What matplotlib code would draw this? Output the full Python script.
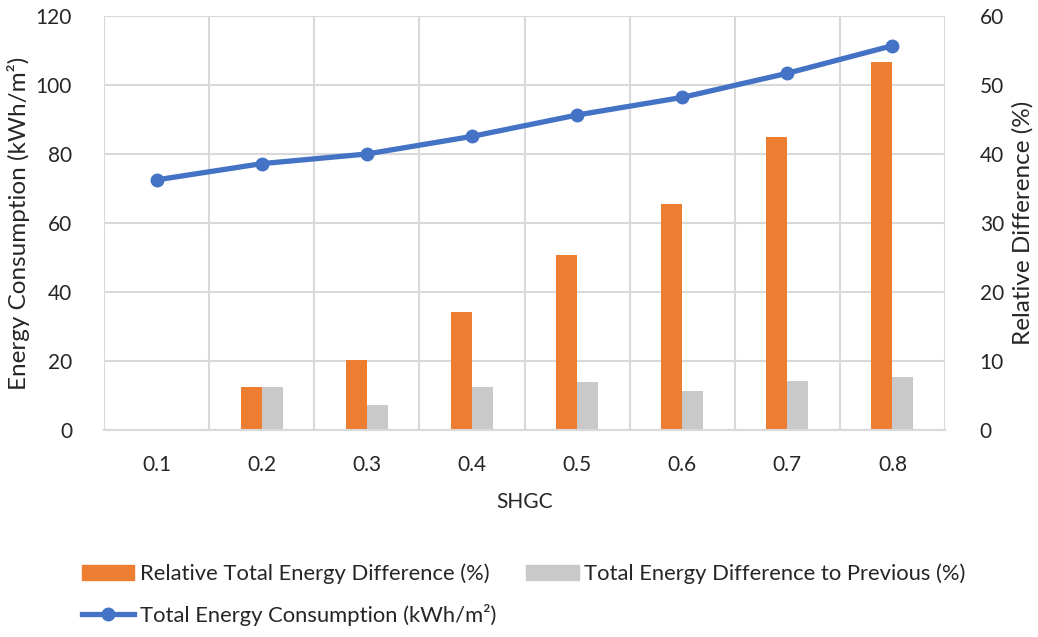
import matplotlib
matplotlib.use("Agg")
import matplotlib.pyplot as plt
from matplotlib.lines import Line2D
from matplotlib.patches import Patch
import numpy as np

plt.rcParams['font.family'] = ['Lato', 'DejaVu Sans']

# Dados
shgc = ['0.1', '0.2', '0.3', '0.4', '0.5', '0.6', '0.7', '0.8']
consumo_total = [72.5, 77.2, 80.0, 85.1, 91.3, 96.4, 103.4, 111.4]   # kWh/m²
dif_relativa = [0, 6.2, 10.1, 17.1, 25.3, 32.7, 42.4, 53.4]           # %
dif_anterior = [0, 6.2, 3.6, 6.3, 6.9, 5.7, 7.1, 7.7]                 # %

laranja = '#ED7D31'
cinza = '#C9C9C9'
azul = '#4472C4'
grade = '#D9D9D9'
texto = '#262626'
fs = 15

fig = plt.figure(figsize=(10.38, 6.37), dpi=100)
ax = fig.add_axes([104 / 1038, 1 - 430 / 637, (945 - 104) / 1038, (430 - 16) / 637])
ax2 = ax.twinx()

# eixo das barras (direita) e eixo da linha (esquerda)
ax.yaxis.tick_right()
ax.yaxis.set_label_position('right')
ax2.yaxis.tick_left()
ax2.yaxis.set_label_position('left')

x = np.arange(len(shgc))
w = 0.2
ax.bar(x - w / 2, dif_relativa, w, color=laranja, zorder=3)
ax.bar(x + w / 2, dif_anterior, w, color=cinza, zorder=3)
ax2.plot(x, consumo_total, '-o', color=azul, lw=3.8, ms=9, zorder=4)

ax.set_xlim(-0.5, len(shgc) - 0.5)
ax.set_ylim(0, 60)
ax.set_yticks(range(0, 61, 10))
ax2.set_ylim(0, 120)
ax2.set_yticks(range(0, 121, 20))

ax.set_xticks(x)
ax.set_xticklabels(shgc)
ax.set_xticks(np.arange(-0.5, len(shgc)), minor=True)
ax.set_axisbelow(True)
ax.grid(axis='y', color=grade, lw=1.5)
ax.grid(axis='x', which='minor', color=grade, lw=1.5)
ax.tick_params(which='both', length=0, labelsize=fs, colors=texto)
ax.tick_params(axis='x', pad=18)
ax.tick_params(axis='y', pad=25)
ax2.tick_params(length=0, labelsize=fs, colors=texto, pad=23)

for a in (ax, ax2):
    for s in ['top', 'left', 'right']:
        a.spines[s].set_visible(False)
    a.spines['bottom'].set_color(grade)
    a.spines['bottom'].set_linewidth(1.5)

ax.set_xlabel('SHGC', fontsize=fs, color=texto, labelpad=12)
ax.set_ylabel('Relative Difference (%)', fontsize=17.5, color=texto, labelpad=6)
ax2.set_ylabel('Energy Consumption (kWh/m²)', fontsize=17.5, color=texto, labelpad=4)

handles = [
    Patch(color=laranja, label='Relative Total Energy Difference (%)'),
    Line2D([], [], color=azul, lw=3.8, marker='o', ms=9, label='Total Energy Consumption (kWh/m²)'),
    Patch(color=cinza, label='Total Energy Difference to Previous (%)'),
]
fig.legend(handles=handles, ncol=2, loc='upper left', bbox_to_anchor=(62 / 1038, 1 - 544 / 637),
           frameon=False, fontsize=15.8, handlelength=2.4, handleheight=0.7,
           handletextpad=0.25, columnspacing=1.35, labelspacing=0.9, labelcolor=texto)

fig.savefig('out.png', dpi=100)
